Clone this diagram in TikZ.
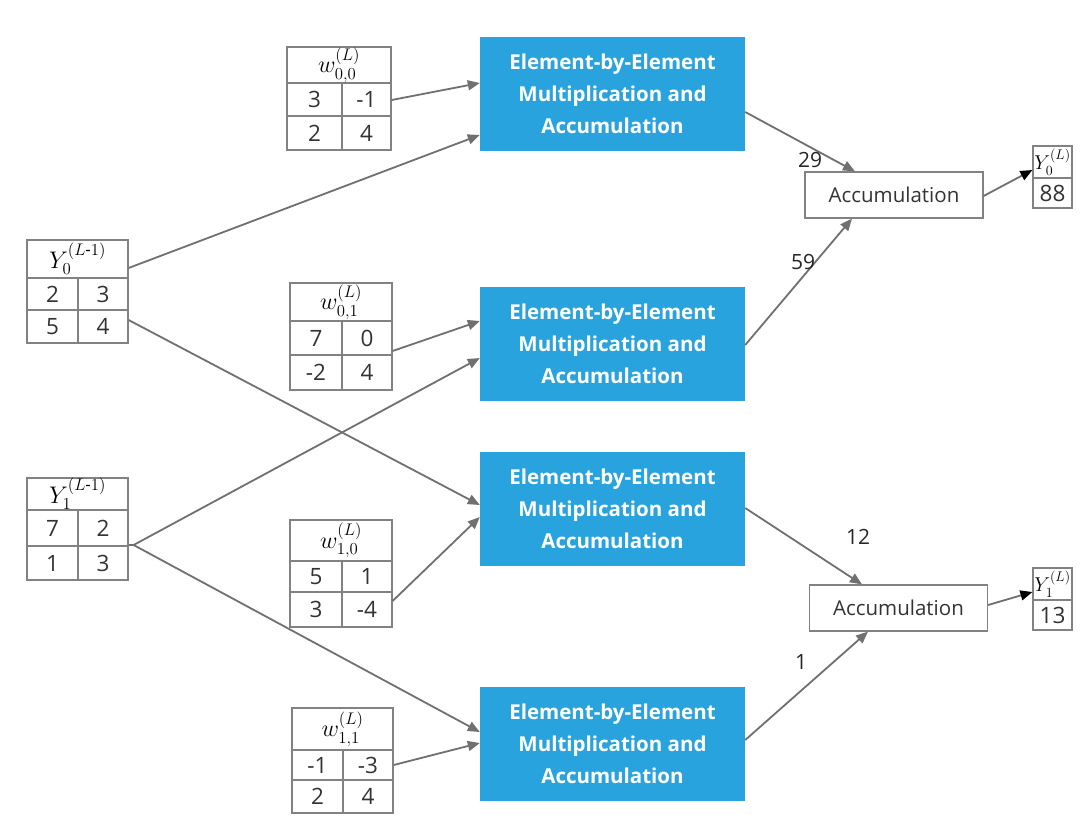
\documentclass[tikz,border=0pt]{standalone}
\usepackage{amsmath}
\usepackage{fix-cm}
\usepackage[no-math]{fontspec}
\setmainfont{Open Sans}
\usetikzlibrary{arrows.meta,fit}
\definecolor{macblue}{RGB}{41,163,221}
\definecolor{lngray}{RGB}{112,112,112}
\definecolor{bdgray}{RGB}{130,130,130}
\tikzset{
  tabframe/.style={draw=bdgray, line width=1.2pt, inner sep=0pt},
  tabline/.style={draw=bdgray, line width=1.2pt},
  num/.style={font=\fontsize{22.5}{26}\selectfont, text=black!80, inner sep=0pt},
  hdr/.style={font=\fontsize{24}{28}\selectfont, inner sep=0pt},
  mac/.style={fill=macblue, text=white, align=center, minimum width=265pt, minimum height=114pt, inner sep=0pt,
    font=\fontsize{20.5}{32}\selectfont\bfseries},
  acc/.style={draw=bdgray, line width=1.2pt, minimum width=178pt, minimum height=46pt, inner sep=0pt,
    font=\fontsize{20.5}{24}\selectfont, text=black!80},
  conn/.style={draw=lngray, line width=1.8pt, -{Triangle[length=12pt,width=10pt]}},
  outconn/.style={draw=lngray, line width=1.8pt, -{Triangle[length=12pt,width=10pt,fill=black,color=black]}},
  lbl/.style={font=\fontsize{21}{24}\selectfont, text=black!85, inner sep=0pt},
}
\newcommand{\gridtab}[8]{%
  \coordinate (#1-nw) at (#2,#3);
  \coordinate (#1-se) at (#4,#7);
  \node[tabframe, fit=(#1-nw)(#1-se)] (#1) {};
  \draw[tabline] (#2,#5) -- (#4,#5);
  \draw[tabline] (#2,#6) -- (#4,#6);
  \draw[tabline] (#8,#5) -- (#8,#7);
  \coordinate (#1-h) at ({(#2+#4)/2},{(#3+#5)/2});
  \coordinate (#1-a) at ({(#2+#8)/2},{(#5+#6)/2});
  \coordinate (#1-b) at ({(#8+#4)/2},{(#5+#6)/2});
  \coordinate (#1-c) at ({(#2+#8)/2},{(#6+#7)/2});
  \coordinate (#1-d) at ({(#8+#4)/2},{(#6+#7)/2});
}
\newcommand{\tabfill}[6]{%
  \node[hdr] (#1-ht) at (#1-h) {#2};
  \node[num] (#1-at) at (#1-a) {#3};
  \node[num] (#1-bt) at (#1-b) {#4};
  \node[num] (#1-ct) at (#1-c) {#5};
  \node[num] (#1-dt) at (#1-d) {#6};
}
\begin{document}
\begin{tikzpicture}[x=1pt,y=-1pt]
\useasboundingbox[fill=white] (0,0) rectangle (1092,836);

% input tables
\gridtab{y0in}{27}{240}{128}{278}{310}{343}{78}
\tabfill{y0in}{$Y_0^{(L\text{-}1)}$}{2}{3}{5}{4}
\gridtab{y1in}{27}{478}{128}{510}{546}{580}{78}
\tabfill{y1in}{$Y_1^{(L\text{-}1)}$}{7}{2}{1}{3}

% weight tables
\gridtab{w00}{287}{47}{391}{83}{116}{150}{342}
\tabfill{w00}{$w^{(L)}_{0,0}$}{3}{-1}{2}{4}
\gridtab{w01}{290}{283}{392}{321}{355}{390}{342}
\tabfill{w01}{$w^{(L)}_{0,1}$}{7}{0}{-2}{4}
\gridtab{w10}{290}{520}{392}{561}{592}{627}{342}
\tabfill{w10}{$w^{(L)}_{1,0}$}{5}{1}{3}{-4}
\gridtab{w11}{292}{708}{393}{750}{780}{813}{343}
\tabfill{w11}{$w^{(L)}_{1,1}$}{-1}{-3}{2}{4}

% multiply-accumulate boxes
\node[mac] (m1) at (612.5,94) {Element-by-Element\\Multiplication and\\Accumulation};
\node[mac] (m2) at (612.5,343.5) {Element-by-Element\\Multiplication and\\Accumulation};
\node[mac] (m3) at (612.5,509) {Element-by-Element\\Multiplication and\\Accumulation};
\node[mac] (m4) at (612.5,744) {Element-by-Element\\Multiplication and\\Accumulation};

% accumulation boxes
\node[acc] (a1) at (894,195) {Accumulation};
\node[acc] (a2) at (898.5,608) {Accumulation};

% output tables
\coordinate (y0o-nw) at (1033,146);
\coordinate (y0o-se) at (1072,208);
\node[tabframe, fit=(y0o-nw)(y0o-se)] (y0out) {};
\draw[tabline] (1033,178) -- (1072,178);
\node[hdr, font=\fontsize{20}{22}\selectfont] (y0out-h) at (1052.5,162) {$Y_0^{(L)}$};
\node[num] (y0out-v) at (1052.5,193) {88};

\coordinate (y1o-nw) at (1033,568);
\coordinate (y1o-se) at (1072,630);
\node[tabframe, fit=(y1o-nw)(y1o-se)] (y1out) {};
\draw[tabline] (1033,600) -- (1072,600);
\node[hdr, font=\fontsize{20}{22}\selectfont] (y1out-h) at (1052.5,584) {$Y_1^{(L)}$};
\node[num] (y1out-v) at (1052.5,615) {13};

% fork point of Y1
\coordinate (y1fork) at ([xshift=5pt,yshift=-16pt]y1in.east);

% connectors into MAC boxes
\draw[conn] ([yshift=-1.5pt]w00.east) -- ([yshift=11pt]m1.west);
\draw[conn] ([yshift=23.5pt]y0in.east) -- ([yshift=-41pt]m1.west);
\draw[conn] ([yshift=-14.5pt]w01.east) -- ([yshift=22.5pt]m2.west);
\draw[line width=1.8pt, lngray] ([yshift=-16pt]y1in.east) -- (y1fork);
\draw[conn] (y1fork) -- ([yshift=-14.5pt]m2.west);
\draw[conn] ([yshift=-28.5pt]y0in.east) -- ([yshift=4pt]m3.west);
\draw[conn] ([yshift=-27.5pt]w10.east) -- ([yshift=-8pt]m3.west);
\draw[conn] (y1fork) -- ([yshift=12pt]m4.west);
\draw[conn] ([yshift=-4.5pt]w11.east) -- ([yshift=1pt]m4.west);

% connectors into accumulation
\draw[conn] ([yshift=-18pt]m1.east) -- ([xshift=-39pt]a1.north);
\draw[conn] ([yshift=-1.5pt]m2.east) -- ([xshift=-42pt]a1.south);
\draw[conn] ([yshift=1pt]m3.east) -- ([xshift=-36.5pt]a2.north);
\draw[conn] ([yshift=4pt]m4.east) -- ([xshift=-30.5pt]a2.south);

% outputs
\draw[outconn] ([yshift=-1pt]a1.east) -- ([yshift=7pt]y0out.west);
\draw[outconn] ([yshift=3pt]a2.east) -- ([yshift=7pt]y1out.west);

% value labels
\node[lbl] (l29) at (810,160) {29};
\node[lbl] (l59) at (803,262) {59};
\node[lbl] (l12) at (858,537) {12};
\node[lbl] (l1) at (801,662) {1};
\end{tikzpicture}
\end{document}
